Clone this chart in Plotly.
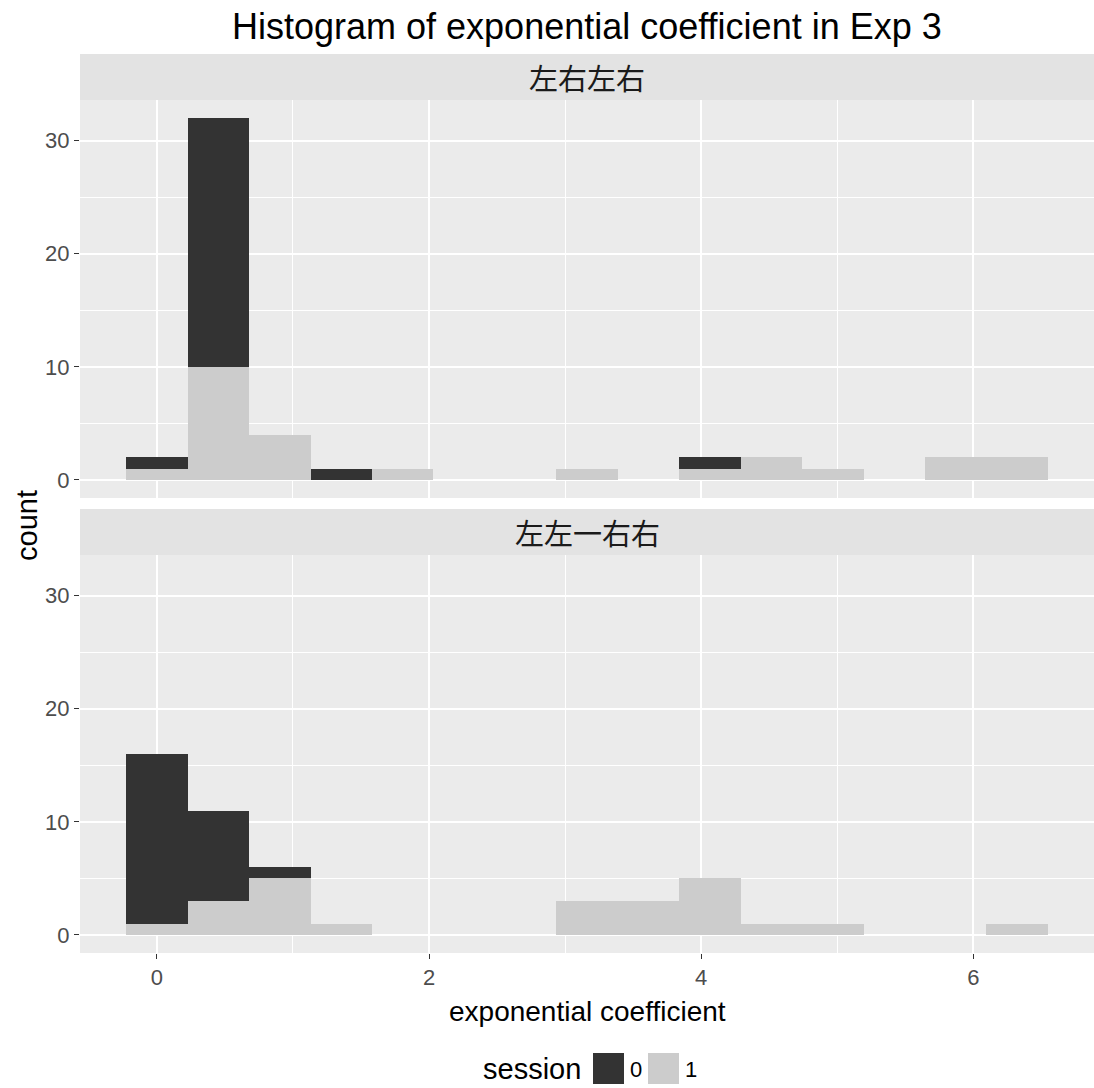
import plotly.graph_objects as go
from plotly.subplots import make_subplots

# Histogram bins (bin width ~0.4516) and stacked counts per session
bin_centers = [0.00, 0.4516, 0.9032, 1.3548, 1.8064, 2.258, 2.7096, 3.1612,
               3.6128, 4.0644, 4.516, 4.9676, 5.4192, 5.8708, 6.3224]
bin_width = 0.4516

panels = ["左右左右", "左左一右右"]

top_session0 = [1, 22, 0, 1, 0, 0, 0, 0, 0, 1, 0, 0, 0, 0, 0]
top_session1 = [1, 10, 4, 0, 1, 0, 0, 1, 0, 1, 2, 1, 0, 2, 2]
bottom_session0 = [15, 8, 1, 0, 0, 0, 0, 0, 0, 0, 0, 0, 0, 0, 0]
bottom_session1 = [1, 3, 5, 1, 0, 0, 0, 3, 3, 5, 1, 1, 0, 0, 1]

sessions = ["0", "1"]
session_colors = {"0": "#333333", "1": "#CCCCCC"}

y_ticks = [0, 10, 20, 30]
x_ticks = [0, 2, 4, 6]

W, H = 1094, 1088
L, R, T, B = 80, 0, 100, 135
plot_h = H - T - B

def py(pix):
    """pixel row -> paper y"""
    return (H - B - pix) / plot_h

def px(pix):
    return (pix - L) / (W - L - R)

fig = make_subplots(rows=2, cols=1, shared_xaxes=True, vertical_spacing=0)

panel_data = [(top_session1, top_session0), (bottom_session1, bottom_session0)]
for row, (s1, s0) in enumerate(panel_data, start=1):
    for name, vals in (("1", s1), ("0", s0)):
        fig.add_trace(
            go.Bar(x=bin_centers, y=vals, width=bin_width, name=name,
                   marker=dict(color=session_colors[name], line=dict(width=0)),
                   showlegend=False, hoverinfo="x+y+name"),
            row=row, col=1)

fig.update_layout(
    barmode="stack",
    bargap=0,
    width=W, height=H,
    margin=dict(l=L, r=R, t=T, b=B),
    paper_bgcolor="white",
    plot_bgcolor="#EBEBEB",
    font=dict(family="Liberation Sans, Arial, sans-serif", color="#4D4D4D"),
)

# panel domains
fig.update_layout(
    yaxis=dict(domain=[py(498), 1.0]),
    yaxis2=dict(domain=[0.0, py(555)]),
)

axis_common = dict(
    showgrid=True, gridcolor="white", gridwidth=1.6,
    zeroline=False, showline=False,
    ticks="outside", ticklen=5, tickwidth=1.2, tickcolor="#333333",
    tickfont=dict(size=22, color="#4D4D4D"),
)

for yname in ("yaxis", "yaxis2"):
    fig.layout[yname].update(
        range=[-1.6, 33.6], tickvals=y_ticks, **axis_common,
        minor=dict(tickvals=[5, 15, 25], showgrid=True, gridcolor="white",
                   gridwidth=0.7, ticks=""),
    )

for xname in ("xaxis", "xaxis2"):
    fig.layout[xname].update(
        range=[-0.565, 6.887], tickvals=x_ticks, **axis_common,
        minor=dict(tickvals=[1, 3, 5], showgrid=True, gridcolor="white",
                   gridwidth=0.7, ticks=""),
    )
fig.layout.xaxis.update(showticklabels=False, ticks="")

shapes = []
annotations = []

# facet strips
strip_rows = [(54, 100), (509, 555)]
for label, (top, bot) in zip(panels, strip_rows):
    shapes.append(dict(type="rect", xref="paper", yref="paper",
                       x0=0, x1=1, y0=py(bot), y1=py(top),
                       fillcolor="#E3E3E3", line=dict(width=0), layer="below"))
    annotations.append(dict(text=label, xref="paper", yref="paper",
                            x=0.5, y=py((top + bot) / 2), showarrow=False,
                            xanchor="center", yanchor="middle",
                            font=dict(family="Noto Sans CJK SC", size=29,
                                      color="#1A1A1A")))

# title and axis titles
annotations.append(dict(text="Histogram of exponential coefficient in Exp 3",
                        xref="paper", yref="paper", x=0.5, y=py(27),
                        showarrow=False, xanchor="center", yanchor="middle",
                        font=dict(size=36, color="black")))
annotations.append(dict(text="exponential coefficient",
                        xref="paper", yref="paper", x=0.5, y=py(1011),
                        showarrow=False, xanchor="center", yanchor="middle",
                        font=dict(size=28, color="black")))
annotations.append(dict(text="count", xref="paper", yref="paper",
                        x=px(27), y=py(526), textangle=-90,
                        showarrow=False, xanchor="center", yanchor="middle",
                        font=dict(size=29, color="black")))

# legend drawn below the plot
annotations.append(dict(text="session", xref="paper", yref="paper",
                        x=px(583), y=py(1069), showarrow=False,
                        xanchor="right", yanchor="middle",
                        font=dict(size=29, color="black")))
key_left = [593, 648]
for name, kx in zip(sessions, key_left):
    shapes.append(dict(type="rect", xref="paper", yref="paper",
                       x0=px(kx), x1=px(kx + 31), y0=py(1084), y1=py(1053),
                       fillcolor=session_colors[name], line=dict(width=0)))
    annotations.append(dict(text=name, xref="paper", yref="paper",
                            x=px(kx + 35), y=py(1069), showarrow=False,
                            xanchor="left", yanchor="middle",
                            font=dict(size=22, color="black")))

fig.update_layout(shapes=shapes, annotations=annotations)

fig.write_html("out.html")
